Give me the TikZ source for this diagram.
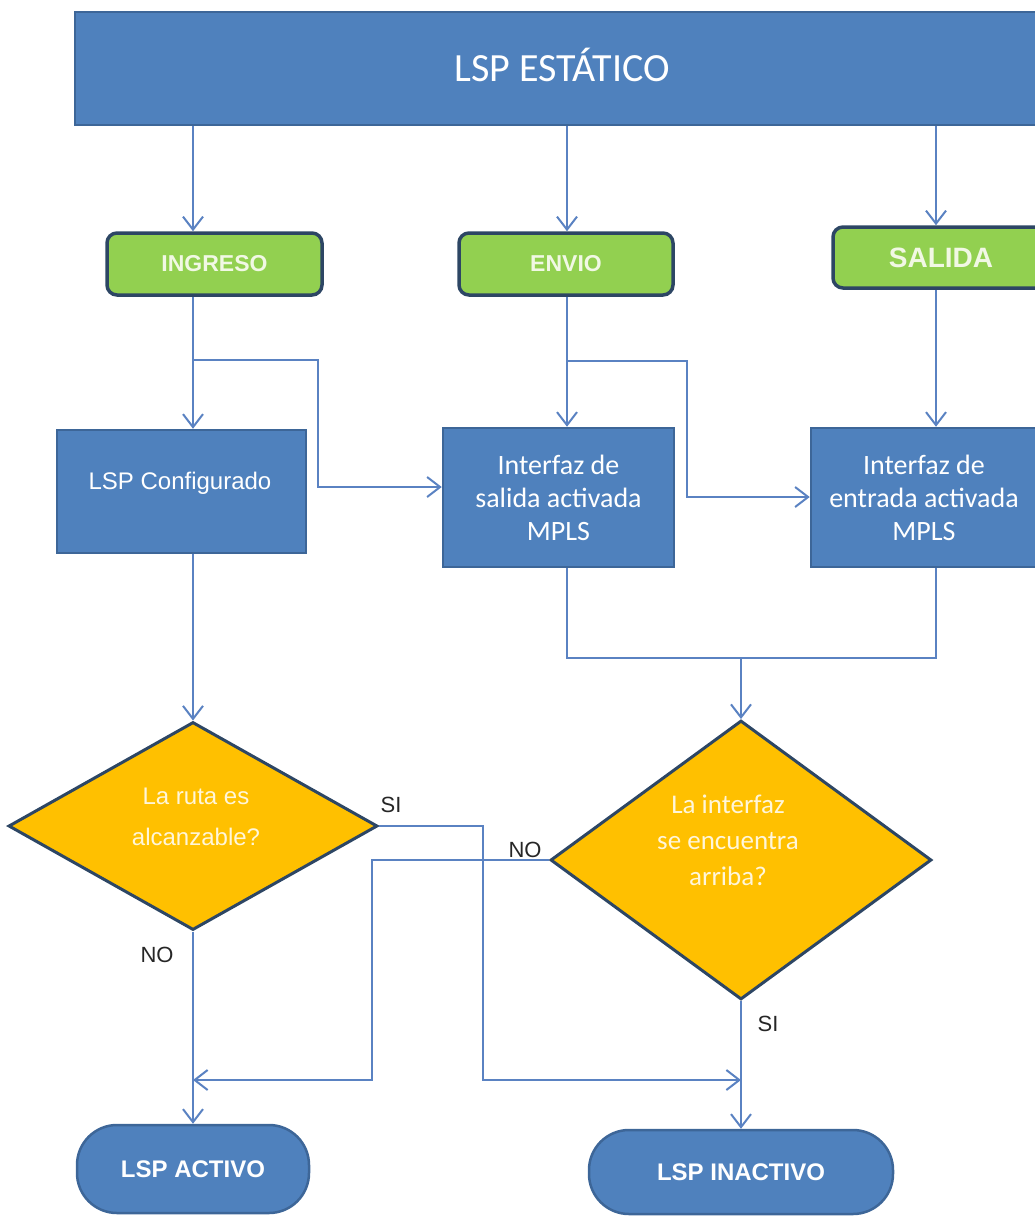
\documentclass[tikz,border=0pt]{standalone}
\usepackage{fontspec}
\setmainfont{Carlito}
\newfontfamily\arialf{Liberation Sans}
\usetikzlibrary{shapes.geometric,arrows.meta}

\definecolor{boxblue}{HTML}{4F81BD}
\definecolor{boxedge}{HTML}{3D6698}
\definecolor{leafgreen}{HTML}{92D050}
\definecolor{darkedge}{HTML}{2D4664}
\definecolor{amber}{HTML}{FFC000}
\definecolor{wire}{HTML}{5A82C2}
\definecolor{labelink}{HTML}{262626}
\definecolor{greentext}{HTML}{F1F8E4}
\definecolor{creamtext}{HTML}{FFF6DA}

\tikzset{
  bluebox/.style={draw=boxedge, line width=2.5pt, fill=boxblue, text=white,
    inner sep=0pt, align=center},
  greenbox/.style={draw=darkedge, line width=3.5pt, fill=leafgreen, text=greentext,
    rounded corners=10pt, inner sep=0pt, font=\arialf\bfseries\fontsize{23}{27}\selectfont},
  decision/.style={diamond, draw=darkedge, line width=3pt, fill=amber, inner sep=0pt},
  terminal/.style={draw=boxedge, line width=2.5pt, fill=boxblue, text=white,
    rounded corners=40pt, inner sep=0pt, font=\arialf\bfseries\fontsize{24}{28}\selectfont},
  arr/.style={draw=wire, line width=2pt, -{Straight Barb[length=13pt,width=20pt,line width=2pt]}},
  wirel/.style={draw=wire, line width=2pt},
  answer/.style={text=labelink, font=\arialf\fontsize{22}{25}\selectfont, inner sep=0pt},
}

\begin{document}
\begin{tikzpicture}[x=1pt,y=-1pt]
\useasboundingbox (0,0) rectangle (1035,1216);

% column and routing coordinates
\coordinate (c1) at (193,0);
\coordinate (c2) at (567,0);
\coordinate (c3) at (936,0);
\coordinate (c4) at (741,0);
\coordinate (s1) at (193,360);
\coordinate (k1) at (318,360);
\coordinate (k1b) at (318,487);
\coordinate (s2) at (567,361);
\coordinate (k2) at (687,361);
\coordinate (k2b) at (687,497);
\coordinate (mrg) at (741,658);
\coordinate (j1) at (483,826);
\coordinate (j1b) at (483,1080);
\coordinate (j2) at (372,860);
\coordinate (j2b) at (372,1080);

% header
\node[bluebox, minimum width=974, minimum height=113] (lsp) at (562,68.5) {};
\node[text=white, inner sep=0pt, font=\fontsize{40}{46}\selectfont] (lspt) at (562,65) {LSP ESTÁTICO};

% stages
\node[greenbox, minimum width=215, minimum height=62] (ingreso) at (214.5,264) {INGRESO};
\node[greenbox, minimum width=214, minimum height=62] (envio) at (566,264) {ENVIO};
\node[greenbox, minimum width=216, minimum height=61,
      font=\arialf\bfseries\fontsize{28}{32}\selectfont] (salida) at (941,257.5) {SALIDA};

% process boxes
\node[bluebox, minimum width=249, minimum height=123] (config) at (181.5,491.5) {};
\node[text=white, inner sep=0pt, font=\arialf\fontsize{24}{28}\selectfont] (configt) at (180,483) {LSP Configurado};
\node[bluebox, minimum width=231, minimum height=139,
      font=\fontsize{28}{33}\selectfont] (act) at (558.5,497.5)
      {Interfaz de\\salida activada\\MPLS};
\node[bluebox, minimum width=226, minimum height=139,
      font=\fontsize{28}{33}\selectfont] (ent) at (924,497.5)
      {Interfaz de\\entrada activada\\MPLS};

% decisions
\node[decision, minimum width=369, minimum height=208] (d1) at (193,826) {};
\node[text=creamtext, align=center, inner sep=0pt,
      font=\arialf\fontsize{24}{41}\selectfont] (d1t) at (196,817) {La ruta es\\alcanzable?};
\node[decision, minimum width=381, minimum height=279] (d2) at (741,860) {};
\node[text=creamtext, align=center, inner sep=0pt,
      font=\fontsize{27}{36}\selectfont] (d2t) at (728,840) {La interfaz\\se encuentra\\arriba?};

% outcomes
\node[terminal, minimum width=232, minimum height=88] (activo) at (193,1169) {LSP ACTIVO};
\node[terminal, minimum width=304, minimum height=84] (inactivo) at (741,1172) {LSP INACTIVO};

% header to stages
\draw[arr] (lsp.south -| c1) -- (ingreso.north -| c1);
\draw[arr] (lsp.south -| c2) -- (envio.north -| c2);
\draw[arr] (lsp.south -| c3) -- (salida.north -| c3);

% stages to process boxes
\draw[arr] (ingreso.south -| c1) -- (config.north -| c1);
\draw[arr] (s1) -- (k1) -- (k1b) -- (act.west |- k1b);
\draw[arr] (envio.south -| c2) -- (act.north -| c2);
\draw[arr] (s2) -- (k2) -- (k2b) -- (ent.west |- k2b);
\draw[arr] (salida.south -| c3) -- (ent.north -| c3);

% into the decisions
\draw[arr] (config.south -| c1) -- (d1.north);
\draw[wirel] (act.south -| c2) -- (c2 |- mrg) -- (c3 |- mrg) -- (ent.south -| c3);
\draw[arr] (mrg) -- (d2.north);

% decision branches
\draw[arr] (d1.east) -- (j1) -- (j1b) -- (j1b -| c4);
\draw[arr] (d2.west) -- (j2) -- (j2b) -- (j2b -| c1);
\draw[arr] (d1.south) -- (activo.north);
\draw[arr] (d2.south) -- (inactivo.north);

% branch labels
\node[answer] (si1) at (391,805) {SI};
\node[answer] (no2) at (525,850) {NO};
\node[answer] (no1) at (157,955) {NO};
\node[answer] (si2) at (768,1024) {SI};
\end{tikzpicture}
\end{document}
